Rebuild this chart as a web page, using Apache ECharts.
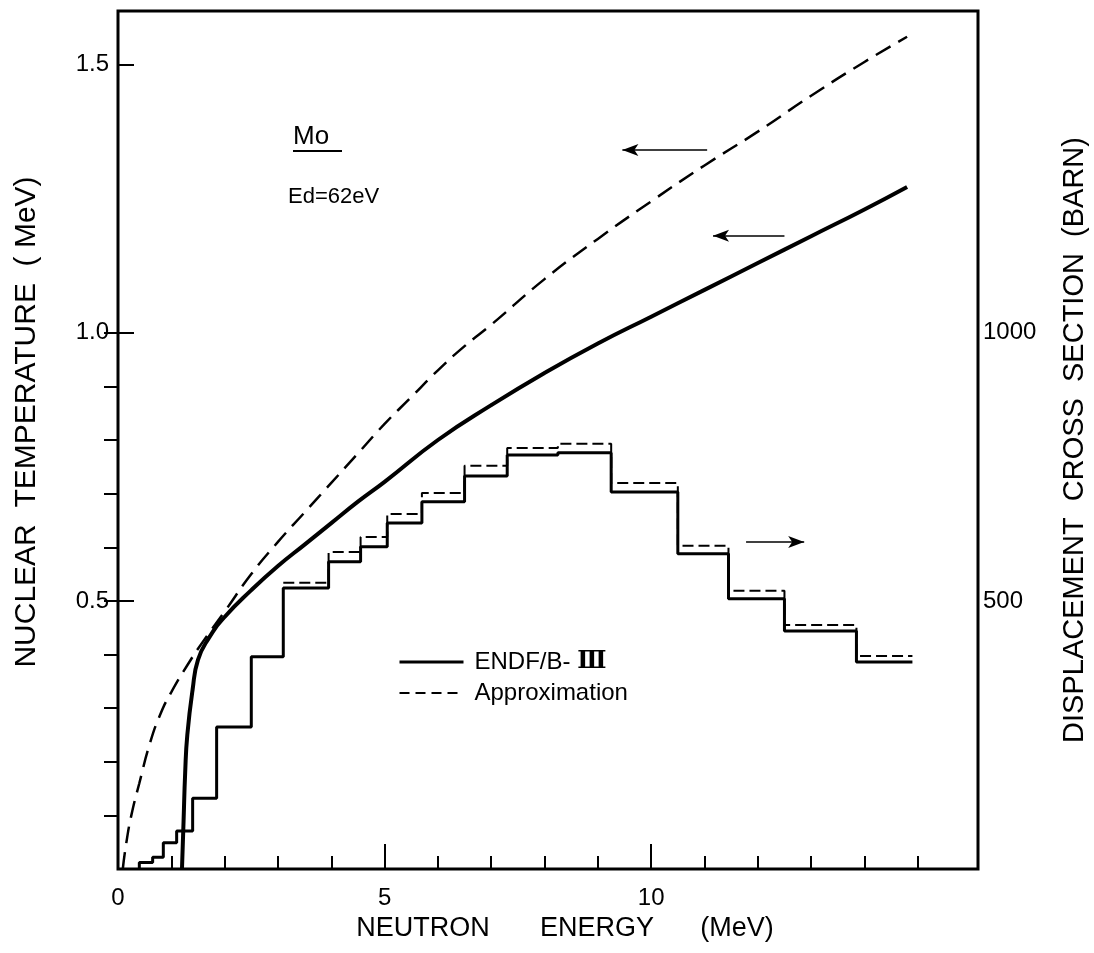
<!DOCTYPE html>
<html>
<head>
<meta charset="utf-8">
<script src="https://cdn.jsdelivr.net/npm/echarts@6/dist/echarts.min.js"></script>
<style>
  html, body { margin: 0; padding: 0; background: #ffffff; }
  #chart { width: 1094px; height: 953px; }
</style>
</head>
<body>
<div id="chart"></div>
<script>
// Mo nuclear temperature (left axis, MeV) and displacement cross section (right axis, barn)
// versus neutron energy (MeV).

// Nuclear temperature curves
const E_ENDF_CURVE = [1.20, 1.23, 1.26, 1.30, 1.40, 1.50, 1.70, 2.0, 2.5, 3.0, 3.5, 4.0, 4.5, 5.0,
                      6.0, 7.0, 8.0, 9.0, 10.0, 11.0, 12.0, 13.0, 14.0, 14.8];
const T_ENDF_CURVE = [0, 0.09, 0.18, 0.25, 0.335, 0.39, 0.43, 0.47, 0.52, 0.565, 0.605, 0.645, 0.685, 0.722,
                      0.80, 0.865, 0.925, 0.98, 1.03, 1.08, 1.13, 1.18, 1.23, 1.272];

const E_APPROX_CURVE = [0.09, 0.15, 0.25, 0.4, 0.6, 0.8, 1.0, 1.3, 1.6, 2.0, 2.5, 3.0, 3.5, 4.0, 4.5,
                        5.0, 5.5, 6.0, 6.5, 7.0, 8.0, 9.0, 10.0, 11.0, 12.0, 13.0, 14.0, 14.8];
const T_APPROX_CURVE = [0, 0.045, 0.10, 0.16, 0.235, 0.29, 0.33, 0.38, 0.425, 0.48, 0.55, 0.61, 0.665, 0.72, 0.775,
                        0.83, 0.88, 0.93, 0.975, 1.015, 1.10, 1.175, 1.245, 1.312, 1.375, 1.442, 1.505, 1.552];

// Displacement cross section histograms (group boundaries in MeV, values in barn)
const BIN_EDGES = [0.4, 0.65, 0.85, 1.1, 1.4, 1.85, 2.5, 3.1, 3.95, 4.55, 5.05, 5.7, 6.5, 7.3,
                   8.25, 9.25, 10.5, 11.45, 12.5, 13.85, 14.9];
const SIGMA_ENDF = [12, 22, 49, 71, 132, 265, 396, 524, 573, 601, 645, 685, 733, 772,
                    776, 703, 588, 504, 444, 386];
const SIGMA_APPROX = [null, null, null, null, null, null, null, 534, 591, 619, 662, 701, 752, 785,
                      793, 720, 603, 519, 455, 397];

// Axis ticks and labels
const X_MINOR_TICKS = [1, 2, 3, 4, 6, 7, 8, 9, 11, 12, 13, 14, 15];
const X_MAJOR_TICKS = [5, 10];
const X_LABELS = [0, 5, 10];
const T_TICKS = [0.5, 1.0, 1.5];
const SIGMA_TICKS = [100, 200, 300, 400, 500, 600, 700, 800, 900, 1000];
const SIGMA_LABELS = [500, 1000];

// Direction arrows: [tail energy, head energy, level]
const ARROW_APPROX = [11.05, 9.46, 1.341];
const ARROW_ENDF = [12.5, 11.16, 1.181];
const ARROW_SIGMA = [11.78, 12.87, 610];

const FONT = '"Liberation Sans", Arial, sans-serif';
const NUMERAL_FONT = '"DejaVu Serif", "Noto Sans CJK JP", serif';
const INK = '#000000';

function pairs(xs, ys) {
  return xs.map((x, i) => [x, ys[i]]);
}

// Step outline of a group-wise histogram
function stepOutline(edges, values, fromAxis) {
  const pts = [];
  for (let i = 0; i < values.length; i++) {
    const v = values[i];
    if (v == null) continue;
    if (pts.length === 0 && fromAxis) pts.push([edges[i], 0]);
    pts.push([edges[i], v]);
    pts.push([edges[i + 1], v]);
  }
  return pts;
}

function arrowLine(a) {
  return [{ coord: [a[0], a[2]] }, { coord: [a[1], a[2]] }];
}

const arrowStyle = {
  silent: true,
  symbol: ['none', 'arrow'],
  symbolSize: [9, 16],
  label: { show: false },
  lineStyle: { color: INK, width: 1.6, type: 'solid' },
  emphasis: { disabled: true }
};

const chart = echarts.init(document.getElementById('chart'), null, { renderer: 'canvas' });

const option = {
  backgroundColor: '#ffffff',
  color: [INK],
  animation: false,
  grid: {
    left: 118, right: 116, top: 11, bottom: 84,
    show: true, borderColor: INK, borderWidth: 3, backgroundColor: 'transparent'
  },
  legend: {
    orient: 'vertical',
    left: 398, top: 650,
    padding: 0,
    itemWidth: 64, itemHeight: 14, itemGap: 7,
    selectedMode: false,
    formatter: name => name === 'ENDF/B-Ⅲ' ? 'ENDF/B- {r|Ⅲ}' : name,
    textStyle: {
      fontFamily: FONT, fontSize: 24, color: INK, lineHeight: 24, padding: [0, 0, 0, 6],
      rich: { r: { fontFamily: NUMERAL_FONT, fontWeight: 'bold', fontSize: 24, color: INK, lineHeight: 24 } }
    },
    data: [
      { name: 'ENDF/B-Ⅲ', itemStyle: { opacity: 0 }, lineStyle: { width: 3, type: 'solid', color: INK, opacity: 1 } },
      { name: 'Approximation', itemStyle: { opacity: 0 }, lineStyle: { width: 2, type: [10, 6], color: INK, opacity: 1 } }
    ]
  },
  xAxis: [
    {
      type: 'value', min: 0, max: 16.13, position: 'bottom',
      axisLine: { show: false },
      splitLine: { show: false },
      axisTick: { show: true, inside: true, length: 13, customValues: X_MINOR_TICKS,
                  lineStyle: { color: INK, width: 2 } },
      axisLabel: { show: true, customValues: X_LABELS, margin: 17, color: INK,
                   fontFamily: FONT, fontSize: 24 }
    },
    {
      type: 'value', min: 0, max: 16.13, position: 'bottom', offset: 0,
      axisLine: { show: false },
      splitLine: { show: false },
      axisTick: { show: true, inside: true, length: 25, customValues: X_MAJOR_TICKS,
                  lineStyle: { color: INK, width: 2 } },
      axisLabel: { show: false }
    }
  ],
  yAxis: [
    {
      type: 'value', min: 0, max: 1.6, position: 'left',
      axisLine: { show: false },
      splitLine: { show: false },
      axisTick: { show: true, inside: true, length: 16, customValues: T_TICKS,
                  lineStyle: { color: INK, width: 2 } },
      axisLabel: { show: true, customValues: T_TICKS, margin: 9, color: INK,
                   fontFamily: FONT, fontSize: 24, formatter: v => v.toFixed(1) }
    },
    {
      type: 'value', min: 0, max: 1600, position: 'right',
      axisLine: { show: false },
      splitLine: { show: false },
      axisTick: { show: true, inside: true, length: 14, customValues: SIGMA_TICKS,
                  lineStyle: { color: INK, width: 2 } },
      axisLabel: { show: true, customValues: SIGMA_LABELS, margin: 5, color: INK,
                   fontFamily: FONT, fontSize: 24, formatter: v => String(v) }
    }
  ],
  series: [
    {
      name: 'ENDF/B-Ⅲ', type: 'line', xAxisIndex: 0, yAxisIndex: 1,
      data: stepOutline(BIN_EDGES, SIGMA_ENDF, true),
      symbol: 'none', silent: true, z: 3,
      itemStyle: { color: INK },
      lineStyle: { color: INK, width: 3, type: 'solid' },
      markLine: Object.assign({ data: [arrowLine(ARROW_SIGMA)] }, arrowStyle)
    },
    {
      name: 'Approximation', type: 'line', xAxisIndex: 0, yAxisIndex: 1,
      data: stepOutline(BIN_EDGES, SIGMA_APPROX, false),
      symbol: 'none', silent: true, z: 2,
      itemStyle: { color: INK },
      lineStyle: { color: INK, width: 2, type: [11, 5] }
    },
    {
      name: 'ENDF/B-Ⅲ', type: 'line', xAxisIndex: 0, yAxisIndex: 0,
      data: pairs(E_ENDF_CURVE, T_ENDF_CURVE),
      smooth: 0.5,
      symbol: 'none', silent: true, z: 4,
      itemStyle: { color: INK },
      lineStyle: { color: INK, width: 4, type: 'solid' },
      markLine: Object.assign({ data: [arrowLine(ARROW_ENDF)] }, arrowStyle)
    },
    {
      name: 'Approximation', type: 'line', xAxisIndex: 0, yAxisIndex: 0,
      data: pairs(E_APPROX_CURVE, T_APPROX_CURVE),
      smooth: 0.5,
      symbol: 'none', silent: true, z: 4,
      itemStyle: { color: INK },
      lineStyle: { color: INK, width: 2.5, type: [17, 9] },
      markLine: Object.assign({ data: [arrowLine(ARROW_APPROX)] }, arrowStyle)
    }
  ],
  graphic: [
    // Axis titles
    { type: 'text', x: 27, y: 422, rotation: Math.PI / 2,
      style: { text: 'NUCLEAR  TEMPERATURE  ( MeV)', fontFamily: FONT, fontSize: 30, fill: INK,
               align: 'center', verticalAlign: 'middle' } },
    { type: 'text', x: 1075, y: 440, rotation: Math.PI / 2,
      style: { text: 'DISPLACEMENT  CROSS  SECTION  (BARN)', fontFamily: FONT, fontSize: 29, fill: INK,
               align: 'center', verticalAlign: 'middle' } },
    { type: 'text', x: 423, y: 929,
      style: { text: 'NEUTRON', fontFamily: FONT, fontSize: 27, fill: INK, align: 'center', verticalAlign: 'middle' } },
    { type: 'text', x: 597, y: 929,
      style: { text: 'ENERGY', fontFamily: FONT, fontSize: 27, fill: INK, align: 'center', verticalAlign: 'middle' } },
    { type: 'text', x: 737, y: 929,
      style: { text: '(MeV)', fontFamily: FONT, fontSize: 27, fill: INK, align: 'center', verticalAlign: 'middle' } },
    // Element and displacement energy
    { type: 'text', x: 293, y: 137,
      style: { text: 'Mo', fontFamily: FONT, fontSize: 26, fill: INK, align: 'left', verticalAlign: 'middle' } },
    { type: 'line', shape: { x1: 293, y1: 151, x2: 342, y2: 151 },
      style: { stroke: INK, lineWidth: 2 } },
    { type: 'text', x: 288, y: 197,
      style: { text: 'Ed=62eV', fontFamily: FONT, fontSize: 22, fill: INK, align: 'left', verticalAlign: 'middle' } }
  ]
};

chart.setOption(option);
</script>
</body>
</html>
